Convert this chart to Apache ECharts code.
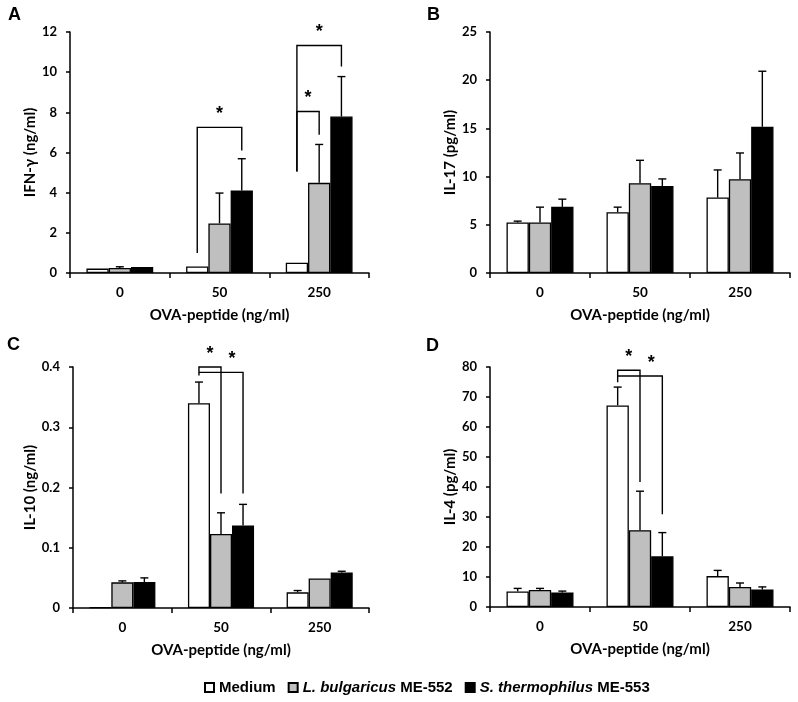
<!DOCTYPE html>
<html>
<head>
<meta charset="utf-8">
<script src="https://cdn.jsdelivr.net/npm/echarts@6/dist/echarts.min.js"></script>
<style>html,body{margin:0;padding:0;background:#fff}#c{width:798px;height:702px}</style>
</head>
<body>
<div id="c"></div>
<script>
// ---------- data ----------
const categories = ['0', '50', '250'];
const seriesNames = ['Medium', 'L. bulgaricus ME-552', 'S. thermophilus ME-553'];
const legendLabels = ['Medium', '{i|L. bulgaricus} ME-552', '{i|S. thermophilus} ME-553'];
const panelLetters = ['A', 'B', 'C', 'D'];
const yNames = ['IFN-γ (ng/ml)', 'IL-17 (pg/ml)', 'IL-10 (ng/ml)', 'IL-4 (pg/ml)'];
const xName = 'OVA-peptide (ng/ml)';
const yMax = [12, 25, 0.4, 80];
const yInterval = [2, 5, 0.1, 10];

// Panel A: IFN-gamma
const ifnMedium = [0.22, 0.32, 0.51];
const ifnMediumErr = [0.22, 0.32, 0.51];
const ifnLb = [0.25, 2.47, 4.49];
const ifnLbErr = [0.31, 3.98, 6.4];
const ifnSt = [0.3, 4.11, 7.79];
const ifnStErr = [0.3, 5.69, 9.78];
// Panel B: IL-17
const il17Medium = [5.24, 6.31, 7.83];
const il17MediumErr = [5.38, 6.83, 10.69];
const il17Lb = [5.24, 9.31, 9.72];
const il17LbErr = [6.83, 11.69, 12.45];
const il17St = [6.86, 9.03, 15.17];
const il17StErr = [7.66, 9.76, 20.93];
// Panel C: IL-10
const il10Medium = [0.001, 0.34, 0.026];
const il10MediumErr = [0.001, 0.375, 0.029];
const il10Lb = [0.0426, 0.123, 0.049];
const il10LbErr = [0.045, 0.158, 0.049];
const il10St = [0.043, 0.137, 0.059];
const il10StErr = [0.05, 0.172, 0.061];
// Panel D: IL-4
const il4Medium = [5.2, 67.2, 10.3];
const il4MediumErr = [6.2, 73.3, 12.2];
const il4Lb = [5.7, 25.6, 6.7];
const il4LbErr = [6.2, 38.6, 8.0];
const il4St = [4.8, 16.9, 5.8];
const il4StErr = [5.3, 24.8, 6.7];

// significance brackets: [category, fromSeries, toSeries, leftBottom, top, rightBottom, starPosition]
const bracketsA = [[1, 0, 2, 1.0, 7.25, 6.1, 1.0], [2, 0, 1, 5.06, 8.04, 6.88, 0.5], [2, 0, 2, 5.06, 11.33, 10.28, 1.0]];
const bracketsB = [];
const bracketsC = [[1, 0, 1, 0.386, 0.4, 0.19, 0.5], [1, 0, 2, 0.391, 0.391, 0.19, 1.5]];
const bracketsD = [[1, 0, 1, 74.9, 78.9, 41.7, 0.5], [1, 0, 2, 77.0, 77.0, 30.9, 1.5]];

const panels = [
  {vals: [ifnMedium, ifnLb, ifnSt], errs: [ifnMediumErr, ifnLbErr, ifnStErr], brackets: bracketsA},
  {vals: [il17Medium, il17Lb, il17St], errs: [il17MediumErr, il17LbErr, il17StErr], brackets: bracketsB},
  {vals: [il10Medium, il10Lb, il10St], errs: [il10MediumErr, il10LbErr, il10StErr], brackets: bracketsC},
  {vals: [il4Medium, il4Lb, il4St], errs: [il4MediumErr, il4LbErr, il4StErr], brackets: bracketsD}
];

// ---------- layout / style ----------
const grids = [
  {left: 70, top: 32, width: 299, height: 241},
  {left: 490, top: 32, width: 300, height: 241},
  {left: 73, top: 367, width: 296, height: 241},
  {left: 490, top: 367, width: 300, height: 240}
];
const letterPos = [[8, 6], [427, 6], [7, 336], [426, 337]];
const fills = ['#ffffff', '#bfbfbf', '#000000'];
const CAT_GAP = 0.33;
const FONT = 'Lato';

function barOffset(api, s) {
  const band = api.size([1, 0])[0];
  const w = band * (1 - CAT_GAP) / 3;
  return (s - 1) * w;
}

const xAxes = [], yAxes = [], series = [];
panels.forEach((p, i) => {
  xAxes.push({
    type: 'category', gridIndex: i, data: categories,
    axisLine: {lineStyle: {color: '#000', width: 1.5}},
    axisTick: {show: true, alignWithLabel: false, length: 5, lineStyle: {color: '#000', width: 1.5}},
    axisLabel: {color: '#000', fontWeight: 'bold', fontFamily: FONT, fontSize: 13.5, margin: 13},
    name: xName, nameLocation: 'middle', nameGap: 35,
    nameTextStyle: {color: '#000', fontWeight: 'bold', fontFamily: FONT, fontSize: 15}
  });
  yAxes.push({
    type: 'value', gridIndex: i, min: 0, max: yMax[i], interval: yInterval[i],
    axisLine: {show: true, lineStyle: {color: '#000', width: 1.5}},
    axisTick: {show: true, length: 4, lineStyle: {color: '#000', width: 1.5}},
    splitLine: {show: false},
    axisLabel: {color: '#000', fontWeight: 'bold', fontFamily: FONT, fontSize: 13, margin: 13},
    name: yNames[i], nameLocation: 'middle', nameGap: 32, nameRotate: 90,
    nameTextStyle: {color: '#000', fontWeight: 'bold', fontFamily: FONT, fontSize: 15}
  });
  p.vals.forEach((arr, s) => {
    series.push({
      type: 'bar', name: seriesNames[s], xAxisIndex: i, yAxisIndex: i, data: arr,
      barGap: '0%', barCategoryGap: (CAT_GAP * 100) + '%',
      itemStyle: {color: fills[s], borderColor: '#000', borderWidth: 1.3},
      emphasis: {disabled: true}, z: 2
    });
  });
  // error bars
  const errData = [];
  p.vals.forEach((arr, s) => arr.forEach((v, c) => errData.push([c, v, p.errs[s][c], s])));
  series.push({
    type: 'custom', name: 'err' + i, xAxisIndex: i, yAxisIndex: i, data: errData, z: 3,
    silent: true,
    renderItem: function (params, api) {
      const c = api.value(0), v = api.value(1), e = api.value(2), s = api.value(3);
      if (e - v <= 0) return null;
      const b = api.coord([c, v]);
      const t = api.coord([c, e]);
      const x = b[0] + barOffset(api, s);
      const st = {stroke: '#000', lineWidth: 1.4};
      return {type: 'group', children: [
        {type: 'line', shape: {x1: x, y1: b[1], x2: x, y2: t[1]}, style: st},
        {type: 'line', shape: {x1: x - 4, y1: t[1], x2: x + 4, y2: t[1]}, style: st}
      ]};
    }
  });
  // significance brackets
  if (p.brackets.length) {
    series.push({
      type: 'custom', name: 'sig' + i, xAxisIndex: i, yAxisIndex: i, data: p.brackets, z: 4,
      silent: true,
      renderItem: function (params, api) {
        const c = api.value(0), fs = api.value(1), ts = api.value(2);
        const lb = api.value(3), top = api.value(4), rb = api.value(5), sp = api.value(6);
        const center = api.coord([c, top]);
        const xf = center[0] + barOffset(api, fs);
        const xt = center[0] + barOffset(api, ts);
        const xs = center[0] + barOffset(api, sp);
        const yl = api.coord([c, lb])[1];
        const yr = api.coord([c, rb])[1];
        const yt = center[1];
        return {type: 'group', children: [
          {type: 'polyline', shape: {points: [[xf, yl], [xf, yt], [xt, yt], [xt, yr]]},
           style: {stroke: '#000', lineWidth: 1.4, fill: null}},
          {type: 'text', x: xs, y: yt - 4,
           style: {text: '*', font: 'bold 18px "Liberation Sans"', fill: '#000', align: 'center', verticalAlign: 'bottom'}}
        ]};
      }
    });
  }
});

const graphics = panelLetters.map((L, i) => ({
  type: 'text', left: letterPos[i][0], top: letterPos[i][1],
  style: {text: L, font: 'bold 18px "Liberation Sans"', fill: '#000'}
}));

const legendLabelMap = {};
seriesNames.forEach((n, i) => legendLabelMap[n] = legendLabels[i]);

const chart = echarts.init(document.getElementById('c'), null, {renderer: 'canvas'});
chart.setOption({
  animation: false,
  backgroundColor: '#fff',
  grid: grids,
  xAxis: xAxes,
  yAxis: yAxes,
  series: series,
  graphic: graphics,
  legend: {
    data: seriesNames, left: 199, top: 675, icon: 'rect', itemWidth: 9, itemHeight: 9, itemGap: 12,
    selectedMode: false,
    formatter: n => legendLabelMap[n],
    textStyle: {color: '#000', fontWeight: 'bold', fontFamily: 'Liberation Sans', fontSize: 15,
      rich: {i: {fontStyle: 'italic', fontWeight: 'bold', fontFamily: 'Liberation Sans', fontSize: 15, color: '#000'}}}
  }
});
</script>
</body>
</html>
